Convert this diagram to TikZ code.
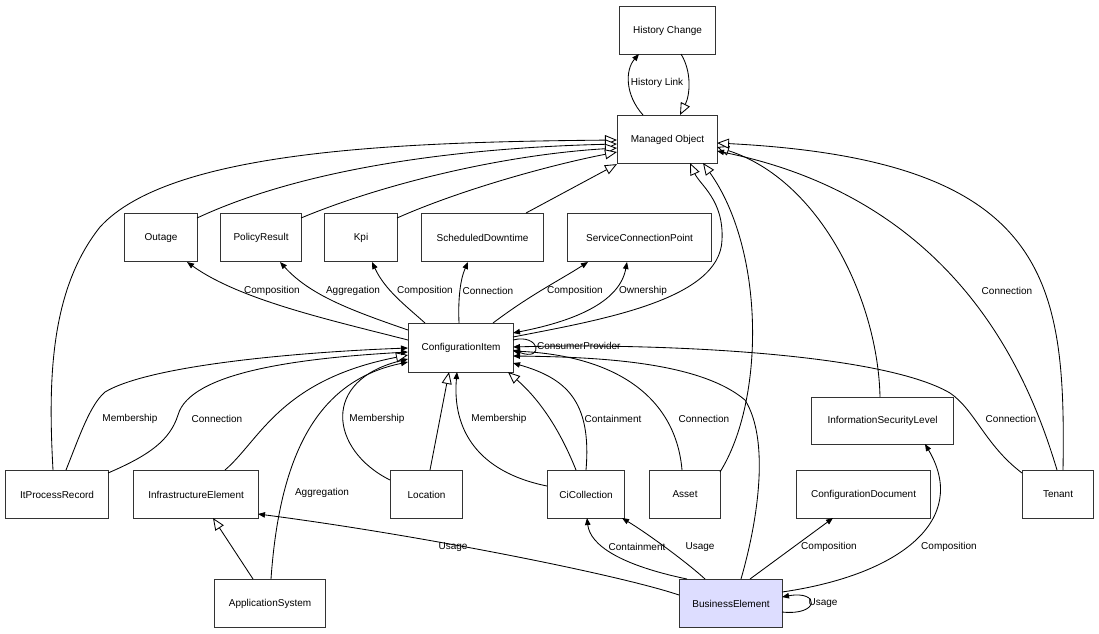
\documentclass[tikz,border=0pt]{standalone}
\usepackage{fontspec}
\setmainfont{Liberation Sans}
\usetikzlibrary{arrows.meta,calc}
\newcommand\lblfont{\fontsize{10}{12}\selectfont}
\definecolor{befill}{RGB}{221,221,255}
\tikzset{
  box/.style={draw=black!80, line width=1.1pt, minimum height=48pt, inner sep=0pt, anchor=north west, font=\lblfont},
  assoc/.style={draw=black, line width=0.85pt, -{Triangle[length=7pt,width=5.5pt]}},
  gen/.style={draw=black, line width=0.85pt, -{Triangle[open,length=12pt,width=10pt,fill=white]}},
  lbl/.style={font=\lblfont, inner sep=1pt},
}
\begin{document}
\begin{tikzpicture}[x=1pt,y=-1pt]
\useasboundingbox (0,0) rectangle (1099,633);
% nodes
\node[box, minimum width=96pt] (HC) at (619,6) {History Change};
\node[box, minimum width=100pt] (MO) at (617,115) {Managed Object};
\node[box, minimum width=73pt] (OU) at (124,213) {Outage};
\node[box, minimum width=81pt] (PR) at (220,213) {PolicyResult};
\node[box, minimum width=73pt] (KP) at (324,213) {Kpi};
\node[box, minimum width=122pt] (SD) at (421,213) {ScheduledDowntime};
\node[box, minimum width=144pt] (SCP) at (567,213) {ServiceConnectionPoint};
\node[box, minimum width=105pt, minimum height=49pt] (CI) at (408,323) {ConfigurationItem};
\node[box, minimum width=142pt, minimum height=47pt] (ISL) at (811,397) {InformationSecurityLevel};
\node[box, minimum width=103pt] (IPR) at (5,470) {ItProcessRecord};
\node[box, minimum width=125pt] (IE) at (133,470) {InfrastructureElement};
\node[box, minimum width=72pt] (LOC) at (390,470) {Location};
\node[box, minimum width=77pt] (CIC) at (547,470) {CiCollection};
\node[box, minimum width=71pt] (AST) at (649,470) {Asset};
\node[box, minimum width=134pt] (CD) at (796,470) {ConfigurationDocument};
\node[box, minimum width=71pt] (TEN) at (1022,470) {Tenant};
\node[box, minimum width=111pt] (AS) at (214,579) {ApplicationSystem};
\node[box, minimum width=103pt, fill=befill] (BE) at (679,579) {BusinessElement};

% History
\draw[assoc] ($(MO.north west)+(26,0)$) .. controls (625,95) and (625,70) .. ($(HC.north west)+(20,48)$);
\node[lbl] (lHL) at (657,83) {History Link};
\draw[gen] ($(HC.north west)+(62,48)$) .. controls (692,72) and (690,95) .. ($(MO.north west)+(63,0)$);

% generalisations to Managed Object (left)
\draw[gen] ($(IPR.north west)+(48,0)$) .. controls (48,380) and (50,290) .. (100,227) .. controls (170,150) and (400,142) .. ($(MO.north west)+(0,25)$);
\draw[gen] ($(OU.north west)+(73,5)$) .. controls (300,170) and (450,148) .. ($(MO.north west)+(0,29)$);
\draw[gen] ($(PR.north west)+(81,5)$) .. controls (380,185) and (500,155) .. ($(MO.north west)+(0,33)$);
\draw[gen] ($(KP.north west)+(73,5)$) .. controls (460,190) and (550,165) .. ($(MO.north west)+(0,37)$);
\draw[gen] ($(SD.north west)+(105,0)$) -- (MO.south west);
\draw[gen] ($(CI.north west)+(105,14)$) .. controls (600,320) and (720,300) .. (722,240) .. controls (724,200) and (700,185) .. ($(MO.north west)+(73,48)$);
\draw[gen] ($(AST.north west)+(71,2)$) .. controls (765,400) and (765,250) .. ($(MO.north west)+(86,48)$);
% right side of Managed Object
\draw[gen] ($(ISL.north west)+(69,0)$) .. controls (878,300) and (820,180) .. ($(MO.north west)+(100,32)$);
\draw[gen] ($(TEN.north west)+(41,0)$) .. controls (1066,280) and (1050,160) .. ($(MO.north west)+(100,28)$);
\draw[assoc] ($(TEN.north west)+(35,0)$) .. controls (1030,380) and (960,200) .. ($(MO.north west)+(100,36)$);
\node[lbl] (lTC1) at (1007,291) {Connection};

% ConfigurationItem upper associations
\draw[assoc] ($(CI.north west)+(0,17)$) .. controls (330,320) and (240,300) .. ($(OU.north west)+(63,49)$);
\node[lbl] (lC1) at (272,291) {Composition};
\draw[assoc] ($(CI.north west)+(0,7)$) .. controls (350,310) and (310,295) .. ($(PR.north west)+(60,49)$);
\node[lbl] (lA1) at (353,291) {Aggregation};
\draw[assoc] ($(CI.north west)+(17,0)$) .. controls (405,305) and (385,290) .. ($(KP.north west)+(48,49)$);
\node[lbl] (lC2) at (425,291) {Composition};
\draw[assoc] ($(CI.north west)+(51,0)$) .. controls (458,300) and (460,280) .. ($(SD.north west)+(47,49)$);
\node[lbl] (lCo1) at (488,291) {Connection};
\draw[assoc] ($(CI.north west)+(85,0)$) .. controls (530,295) and (560,280) .. ($(SCP.north west)+(21,49)$);
\node[lbl] (lC3) at (575,291) {Composition};
\draw[draw=black, line width=0.85pt, {Triangle[length=7pt,width=5.5pt]}-{Triangle[length=7pt,width=5.5pt]}] ($(CI.north west)+(105,10)$) .. controls (580,320) and (620,300) .. ($(SCP.north west)+(60,49)$);
\node[lbl] (lOw) at (643,291) {Ownership};

% self loop
\draw[assoc] ($(CI.north west)+(105,17)$) .. controls (540,333) and (545,362) .. ($(CI.north west)+(105,27)$);
\node[lbl, anchor=west] (lCP) at (536,346) {ConsumerProvider};

% lower associations to ConfigurationItem
\draw[assoc] ($(TEN.north west)+(0,3)$) .. controls (985,445) and (975,410) .. (950,393) .. controls (880,352) and (650,343) .. ($(CI.north west)+(105,24)$);
\node[lbl] (lTC2) at (1011,419) {Connection};
\draw[assoc] ($(BE.north west)+(62,0)$) .. controls (758,520) and (770,440) .. (745,400) .. controls (700,362) and (600,357) .. ($(CI.north west)+(105,33)$);
\draw[assoc] ($(AST.north west)+(33,0)$) .. controls (676,400) and (620,356) .. ($(CI.north west)+(105,28)$);
\node[lbl] (lACo) at (704,419) {Connection};
\draw[assoc] ($(CIC.north west)+(39,0)$) .. controls (592,400) and (565,378) .. ($(CI.north west)+(105,40)$);
\node[lbl] (lCt1) at (613,419) {Containment};
\draw[gen] ($(CIC.north west)+(29,0)$) .. controls (560,430) and (540,400) .. ($(CI.north west)+(100,49)$);
\draw[assoc] ($(CIC.north west)+(0,16)$) .. controls (478,472) and (452,430) .. ($(CI.north west)+(49,49)$);
\node[lbl] (lM3) at (499,419) {Membership};
\draw[gen] ($(LOC.north west)+(40,0)$) -- ($(CI.north west)+(41,49)$);
\draw[assoc] ($(LOC.north west)+(0,10)$) .. controls (330,450) and (320,380) .. ($(CI.north west)+(0,36)$);
\node[lbl] (lM2) at (377,419) {Membership};
\draw[assoc] ($(AS.north west)+(57,0)$) .. controls (280,450) and (320,380) .. ($(CI.north west)+(0,39)$);
\node[lbl] (lA2) at (322,493) {Aggregation};
\draw[gen] ($(IE.north west)+(92,0)$) .. controls (260,440) and (280,380) .. ($(CI.north west)+(0,32)$);
\draw[assoc] ($(IPR.north west)+(61,0)$) .. controls (80,435) and (90,405) .. (105,392) .. controls (150,365) and (300,352) .. ($(CI.north west)+(0,25)$);
\node[lbl] (lM1) at (130,419) {Membership};
\draw[assoc] ($(IPR.north west)+(103,3)$) .. controls (150,455) and (170,440) .. (178,415) .. controls (190,372) and (300,358) .. ($(CI.north west)+(0,29)$);
\node[lbl] (lCo2) at (217,419) {Connection};

% ApplicationSystem
\draw[gen] ($(AS.north west)+(39,0)$) -- ($(IE.north west)+(80,48)$);

% BusinessElement
\draw[assoc] ($(BE.north west)+(0,16)$) .. controls (620,575) and (420,535) .. ($(IE.north west)+(125,44)$);
\node[lbl] (lU1) at (453,547) {Usage};
\draw[assoc] ($(BE.north west)+(8,0)$) .. controls (620,565) and (590,545) .. ($(CIC.north west)+(40,48)$);
\node[lbl] (lCt2) at (637,547) {Containment};
\draw[assoc] ($(BE.north west)+(26,0)$) .. controls (690,565) and (650,535) .. ($(CIC.north west)+(75,48)$);
\node[lbl] (lU2) at (700,547) {Usage};
\draw[assoc] ($(BE.north west)+(71,0)$) -- ($(CD.north west)+(37,48)$);
\node[lbl] (lC4) at (829,547) {Composition};
\draw[assoc] ($(BE.north west)+(103,13)$) .. controls (900,575) and (970,520) .. ($(ISL.north west)+(114,47)$);
\node[lbl] (lC5) at (949,547) {Composition};
\draw[assoc] ($(BE.north west)+(103,33)$) .. controls (820,616) and (820,590) .. ($(BE.north west)+(103,18)$);
\node[lbl] (lU3) at (823,603) {Usage};
\end{tikzpicture}
\end{document}
